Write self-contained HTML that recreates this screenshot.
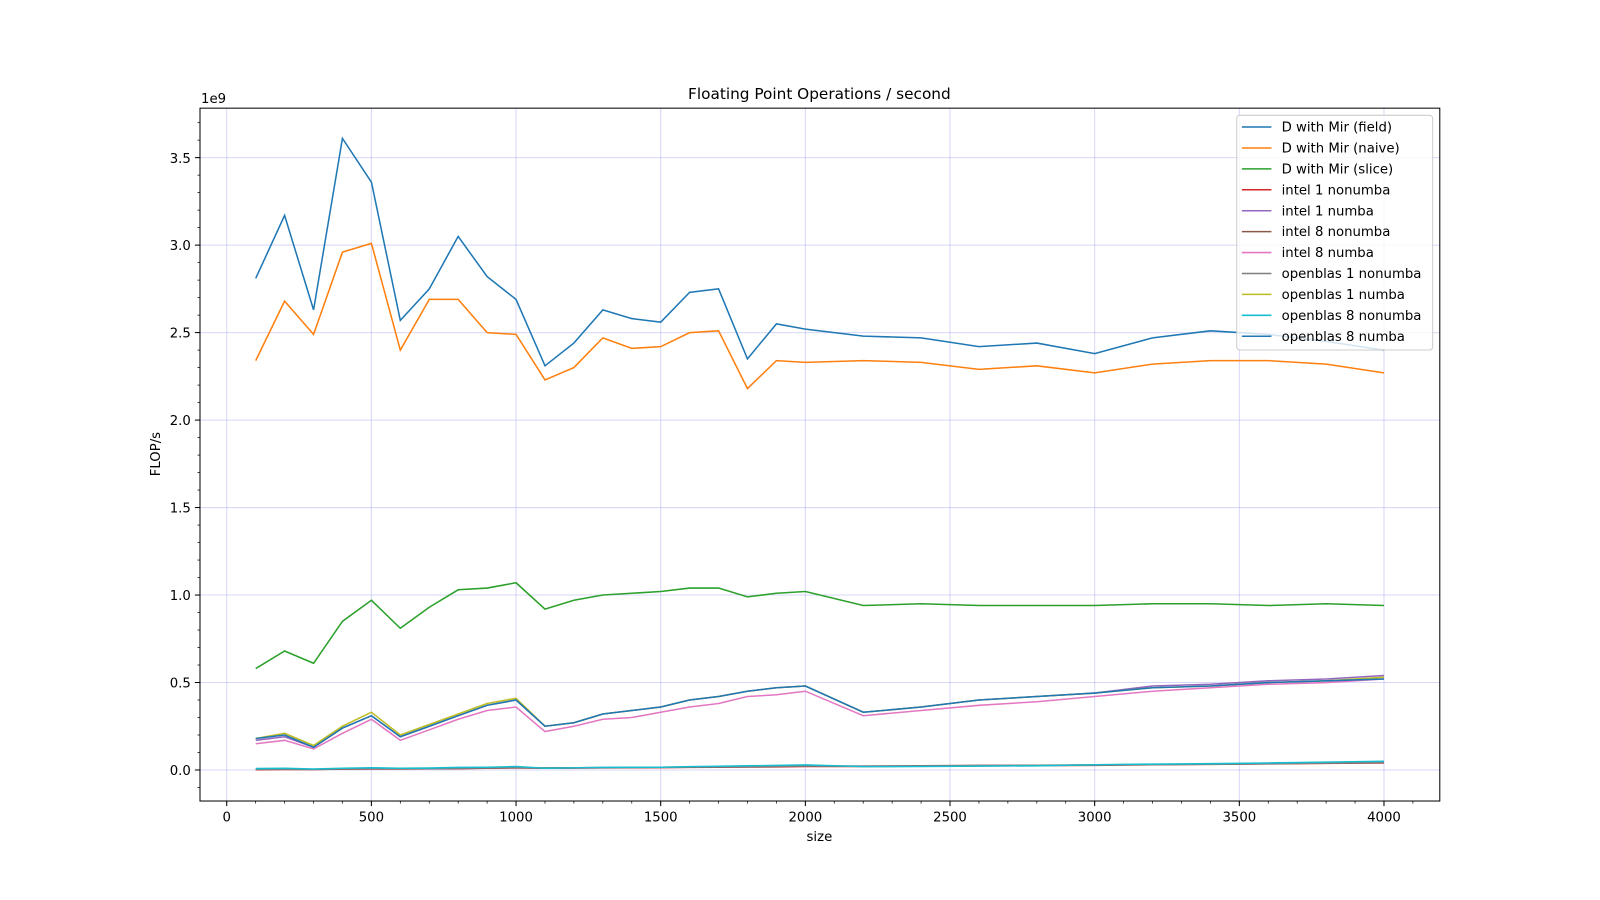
<!DOCTYPE html>
<html><head><meta charset="utf-8"><style>
body{margin:0;background:#fff;overflow:hidden;}
svg{display:block;font-family:"DejaVu Sans","Liberation Sans",sans-serif;}
</style></head><body>
<svg id="chart" width="1600" height="900" viewBox="0 0 1568 882">
<rect x="196" y="106" width="1215" height="679" fill="#fff" stroke="none"/>
<g id="grid"></g><g id="series"></g>
<rect x="196" y="106" width="1215" height="679" fill="none" stroke="#000" stroke-width="1"/>
<g id="axes"></g>
<text x="803" y="97" text-anchor="middle" font-size="15">Floating Point Operations / second</text>
<text x="803" y="824" text-anchor="middle" font-size="13">size</text>
<text transform="translate(157,445) rotate(-90)" text-anchor="middle" font-size="13">FLOP/s</text>
<text x="197" y="101" font-size="13">1e9</text>
<g id="legend"></g>
</svg>
<script>
const sizes=[100,200,300,400,500,600,700,800,900,1000,1100,1200,1300,1400,1500,1600,1700,1800,1900,2000,2200,2400,2600,2800,3000,3200,3400,3600,3800,4000];
const fieldVals=[2.81,3.17,2.63,3.61,3.36,2.57,2.75,3.05,2.82,2.69,2.31,2.44,2.63,2.58,2.56,2.73,2.75,2.35,2.55,2.52,2.48,2.47,2.42,2.44,2.38,2.47,2.51,2.49,2.45,2.40];
const naiveVals=[2.34,2.68,2.49,2.96,3.01,2.40,2.69,2.69,2.50,2.49,2.23,2.30,2.47,2.41,2.42,2.50,2.51,2.18,2.34,2.33,2.34,2.33,2.29,2.31,2.27,2.32,2.34,2.34,2.32,2.27];
const sliceVals=[0.58,0.68,0.61,0.85,0.97,0.81,0.93,1.03,1.04,1.07,0.92,0.97,1.00,1.01,1.02,1.04,1.04,0.99,1.01,1.02,0.94,0.95,0.94,0.94,0.94,0.95,0.95,0.94,0.95,0.94];
const intel1NonVals=[0.002,0.003,0.003,0.005,0.006,0.006,0.007,0.008,0.01,0.012,0.01,0.011,0.012,0.013,0.014,0.015,0.016,0.017,0.018,0.02,0.02,0.022,0.024,0.025,0.027,0.03,0.032,0.035,0.038,0.04];
const intel1NumbaVals=[0.17,0.19,0.13,0.24,0.31,0.19,0.25,0.31,0.37,0.40,0.25,0.27,0.32,0.34,0.36,0.40,0.42,0.45,0.47,0.48,0.33,0.36,0.40,0.42,0.44,0.48,0.49,0.51,0.52,0.54];
const intel8NonVals=[0.003,0.004,0.003,0.006,0.007,0.007,0.008,0.009,0.011,0.013,0.011,0.012,0.013,0.014,0.015,0.016,0.017,0.018,0.02,0.022,0.022,0.024,0.026,0.027,0.029,0.032,0.034,0.037,0.04,0.043];
const intel8NumbaVals=[0.15,0.17,0.12,0.21,0.29,0.17,0.23,0.29,0.34,0.36,0.22,0.25,0.29,0.30,0.33,0.36,0.38,0.42,0.43,0.45,0.31,0.34,0.37,0.39,0.42,0.45,0.47,0.49,0.50,0.52];
const ob1NonVals=[0.004,0.005,0.004,0.007,0.008,0.008,0.009,0.01,0.012,0.014,0.012,0.013,0.014,0.015,0.016,0.017,0.018,0.019,0.021,0.023,0.022,0.023,0.025,0.026,0.028,0.031,0.033,0.036,0.039,0.042];
const ob1NumbaVals=[0.18,0.21,0.14,0.25,0.33,0.20,0.26,0.32,0.38,0.41,0.25,0.27,0.32,0.34,0.36,0.40,0.42,0.45,0.47,0.48,0.33,0.36,0.40,0.42,0.44,0.47,0.48,0.50,0.51,0.53];
const ob8NonVals=[0.008,0.01,0.006,0.01,0.013,0.01,0.011,0.015,0.016,0.02,0.01,0.012,0.015,0.016,0.016,0.019,0.021,0.024,0.026,0.029,0.019,0.02,0.022,0.024,0.03,0.034,0.036,0.04,0.045,0.05];
const ob8NumbaVals=[0.18,0.20,0.13,0.24,0.31,0.19,0.25,0.31,0.37,0.40,0.25,0.27,0.32,0.34,0.36,0.40,0.42,0.45,0.47,0.48,0.33,0.36,0.40,0.42,0.44,0.47,0.48,0.50,0.51,0.52];
const seriesNames=["D with Mir (field)","D with Mir (naive)","D with Mir (slice)","intel 1 nonumba","intel 1 numba","intel 8 nonumba","intel 8 numba","openblas 1 nonumba","openblas 1 numba","openblas 8 nonumba","openblas 8 numba"];
const seriesData=[fieldVals,naiveVals,sliceVals,intel1NonVals,intel1NumbaVals,intel8NonVals,intel8NumbaVals,ob1NonVals,ob1NumbaVals,ob8NonVals,ob8NumbaVals];
const xTicks=[0,500,1000,1500,2000,2500,3000,3500,4000];
const yTicks=[0,0.5,1.0,1.5,2.0,2.5,3.0,3.5];
const colors=["#1f77b4","#ff7f0e","#2ca02c","#d62728","#9467bd","#8c564b","#e377c2","#7f7f7f","#bcbd22","#17becf","#1f77b4"];
const NS="http://www.w3.org/2000/svg";
const X=v=>222.2+v*(1356.3-222.2)/4000;
const Y=v=>754.6-v*(754.6-154.5)/3.5;
function mk(tag,attrs,parent){const e=document.createElementNS(NS,tag);for(const k in attrs)e.setAttribute(k,attrs[k]);parent.appendChild(e);return e;}
const grid=document.getElementById('grid'),axes=document.getElementById('axes'),ser=document.getElementById('series'),leg=document.getElementById('legend');
for(let v=-200;v<=4400;v+=100){const x=X(v);if(x<196||x>1411)continue;
 mk('line',{x1:x,x2:x,y1:785,y2:787.5,stroke:'#000','stroke-width':0.7},axes);}
for(let v=-0.2;v<=3.85;v+=0.1){const y=Y(v);if(y<106||y>785)continue;
 mk('line',{x1:193.5,x2:196,y1:y,y2:y,stroke:'#000','stroke-width':0.7},axes);}
xTicks.forEach(t=>{const x=X(t);
 const g=mk('line',{x1:x,x2:x,y1:106,y2:785,stroke:'#b0b0f0','stroke-opacity':0.5,'stroke-width':1},grid);
 
 mk('line',{x1:x,x2:x,y1:785,y2:790,stroke:'#000'},axes);
 const tx=mk('text',{x:x,y:805,'text-anchor':'middle','font-size':13},axes);tx.textContent=t;
 });
yTicks.forEach(t=>{const y=Y(t);
 const g=mk('line',{x1:196,x2:1411,y1:y,y2:y,stroke:'#b0b0f0','stroke-opacity':0.5,'stroke-width':1},grid);
 
 mk('line',{x1:191,x2:196,y1:y,y2:y,stroke:'#000'},axes);
 const tx=mk('text',{x:187,y:y+5,'text-anchor':'end','font-size':13},axes);tx.textContent=t.toFixed(1);
 });
const order=[3,5,7,9,6,4,8,10,2,1,0];
order.forEach(i=>{const pts=sizes.map((s,j)=>X(s).toFixed(1)+','+Y(seriesData[i][j]).toFixed(1)).join(' ');
 const p=mk('polyline',{points:pts,fill:'none',stroke:colors[i],'stroke-width':1.5},ser);
 });
const lb=mk('rect',{x:1212,y:113,width:192,height:230,rx:3,fill:'#fff','fill-opacity':0.8,stroke:'#ccc'},leg);

seriesNames.forEach((n,i)=>{const y=124.5+i*20.5;
 const g=mk('g',{},leg);
 mk('line',{x1:1217,x2:1246,y1:y,y2:y,stroke:colors[i],'stroke-width':1.5},g);
 const t=mk('text',{x:1256,y:y+4.5,'font-size':13},g);t.textContent=n;});
</script>
</body></html>
